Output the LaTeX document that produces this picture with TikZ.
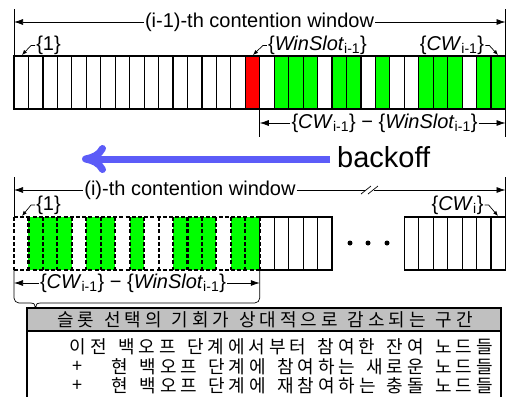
\documentclass[tikz,border=0pt]{standalone}
\usepackage{fontspec}
\setmainfont{Liberation Sans}
\newfontfamily\krfont[LetterSpace=22]{Noto Sans CJK KR}
\usepackage{tikz}
\usetikzlibrary{arrows.meta}
\definecolor{slotgreen}{RGB}{0,255,0}
\definecolor{slotred}{RGB}{255,0,0}
\definecolor{backblue}{RGB}{92,92,248}
\definecolor{hdrgray}{RGB}{192,192,192}
\newcommand{\slotw}{14.456}

\begin{document}
\begin{tikzpicture}[x=1pt,y=-1pt,>={Latex[length=9pt,width=6pt]},
							slot/.style={draw,line width=1.2pt},
							dslot/.style={line width=2.1pt,dash pattern=on 4pt off 2.2pt},
							ext/.style={line width=0.7pt},
							lead/.style={-{Latex[length=5pt,width=4pt]},line width=0.7pt},
							lab/.style={inner sep=1pt,font=\fontsize{20}{24}\selectfont},
							krow/.style={inner sep=0pt,font=\krfont\fontsize{18}{20}\selectfont}]
							\useasboundingbox (0,0) rectangle (507,397);

							\foreach \i in {18,19,20,22,23,25,28,29,30,32,33}
								\fill[slotgreen] ({14+\i*\slotw},56) rectangle ({14+(\i+1)*\slotw},109);
							\fill[slotred] ({14+16*\slotw},56) rectangle ({14+17*\slotw},109);
							\foreach \i in {0,...,33}
								\draw[slot] ({14+\i*\slotw},56) rectangle ({14+(\i+1)*\slotw},109);

							\foreach \i in {1,2,3,5,6,8,11,12,13,15,16}
								\fill[slotgreen] ({14+\i*\slotw},217) rectangle ({14+(\i+1)*\slotw},270);
							\foreach \i in {0,...,17}
								\draw[dslot] ({14+\i*\slotw},217) -- ({14+\i*\slotw},270);
							\draw[dslot] (14,217) -- ({14+17*\slotw},217) (14,270) -- ({14+17*\slotw},270);
							\foreach \i in {17,...,21,27,28,...,33}
								\draw[slot] ({14+\i*\slotw},217) rectangle ({14+(\i+1)*\slotw},270);
							\foreach \x in {350,368,387}
								\fill (\x,243) circle (2.5pt);

							\node[lab] (topwin) at (259.5,22) {(i-1)-th contention window};
							\node[lab] (one1) at (48.5,45.5) {\{1\}};
							\node[lab] (wslot) at (317.5,45.5) {\{\textit{WinSlot}\textsubscript{i-1}\}};
							\node[lab] (cw1) at (452,45.5) {\{\textit{CW}\textsubscript{i-1}\}};
							\node[lab] (rest1) at (384.5,123) {\{\textit{CW}\textsubscript{i-1}\} − \{\textit{WinSlot}\textsubscript{i-1}\}};
							\node[inner sep=0pt,anchor=west,font=\fontsize{29}{34}\selectfont] (bk) at (337,157) {backoff};
							\node[lab] (botwin) at (190,190) {(i)-th contention window};
							\node[lab] (one2) at (48.5,205) {\{1\}};
							\node[lab] (cwi) at (457.5,205) {\{\textit{CW}\textsubscript{i}\}};
							\node[lab] (rest2) at (133,283) {\{\textit{CW}\textsubscript{i-1}\} − \{\textit{WinSlot}\textsubscript{i-1}\}};

							\coordinate (twl) at (14,22);
							\coordinate (twr) at (505.5,22);
							\coordinate (r1l) at ({14+17*\slotw},123);
							\coordinate (r1r) at (505.5,123);
							\coordinate (bwl) at (14,190);
							\coordinate (brk1) at (365,190);
							\coordinate (brk2) at (374,190);
							\coordinate (bwr) at (505.5,190);
							\coordinate (r2l) at (14,283);
							\coordinate (r2r) at ({14+17*\slotw},283);
							\coordinate (s1) at (22,55);
							\coordinate (sred) at (253,55);
							\coordinate (slast) at (498,55);
							\coordinate (s1b) at (22,216);
							\coordinate (slastb) at (498,216);
							\coordinate (bkstart) at (330,159);
							\coordinate (bkend) at (82,159);

							\draw[ext] (14,9) -- (14,56) (505.5,9) -- (505.5,56);
							\draw[ext] ({14+17*\slotw},109) -- ({14+17*\slotw},137) (505.5,109) -- (505.5,137);
							\draw[ext] (14,177) -- (14,217) (505.5,177) -- (505.5,217);
							\path[ext,->]
								(topwin) edge (twl)
								(topwin) edge (twr)
								(rest1) edge (r1l)
								(rest1) edge (r1r)
								(botwin) edge (bwl)
								(brk2) edge (bwr)
								(rest2) edge (r2l)
								(rest2) edge (r2r);
							\draw[ext] (botwin) -- (brk1);
							\draw[ext] (361,194) -- (371,186) (368,194) -- (378,186);
							\draw[lead] (one1.west) -- ++(-4,0) -- (s1);
							\draw[lead] (wslot.west) -- ++(-4,0) -- (sred);
							\draw[lead] (cw1.east) -- ++(4,0) -- (slast);
							\draw[lead] (one2.west) -- ++(-4,0) -- (s1b);
							\draw[lead] (cwi.east) -- ++(4,0) -- (slastb);

							\draw[backblue,line width=7pt,-{Computer Modern Rightarrow[length=24pt,width=28pt,round]}] (bkstart) -- (bkend);

							\draw[ext,rounded corners=5pt] (14,270) -- (14,303) -- (31,303);
							\draw[ext] (31,303) .. controls (34,303) .. (35.5,308) .. controls (37,303) .. (40,303);
							\draw[ext,rounded corners=5pt] (40,303) -- ({14+17*\slotw},303) -- ({14+17*\slotw},270);

							\draw[line width=1.2pt,fill=hdrgray] (27,308) rectangle (501,331);
							\draw[line width=1.2pt] (27,331) -- (27,400) (501,331) -- (501,400);
							\node[krow] (hdr) at (265,320) {\makebox[416pt][s]{슬롯 선택의 기회가 상대적으로 감소되는 구간}};
							\node[krow,anchor=east] (row1) at (493,347) {\makebox[423pt][s]{이전 백오프 단계에서부터 참여한 잔여 노드들}};
							\node[krow] (plus2) at (77,367) {+};
							\node[krow,anchor=east] (row2) at (493,367) {\makebox[381pt][s]{현 백오프 단계에 참여하는 새로운 노드들}};
							\node[krow] (plus3) at (77,386) {+};
							\node[krow,anchor=east] (row3) at (493,386) {\makebox[381pt][s]{현 백오프 단계에 재참여하는 충돌 노드들}};
						\end{tikzpicture}
\end{document}
